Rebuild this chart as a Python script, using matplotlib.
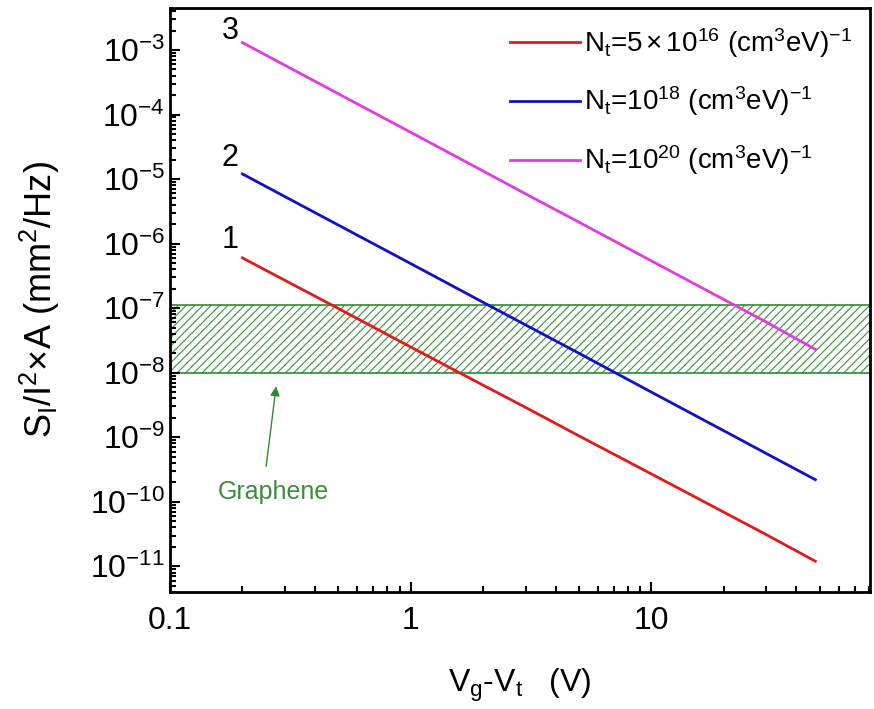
import matplotlib
matplotlib.use("Agg")
import matplotlib.pyplot as plt
from matplotlib.ticker import LogLocator, FixedLocator, FuncFormatter, LogFormatterSciNotation, NullFormatter

plt.rcParams['font.family'] = ['Liberation Sans', 'DejaVu Sans']
plt.rcParams['mathtext.fontset'] = 'custom'
plt.rcParams['mathtext.rm'] = 'Liberation Sans'
plt.rcParams['mathtext.it'] = 'Liberation Sans'
plt.rcParams['hatch.linewidth'] = 0.8

# gate overdrive (V) and normalised noise for three trap densities
vg = [0.2, 0.3, 0.5, 1, 2, 3, 5, 10, 20, 30, 48]
noise_1 = [6.0e-7, 2.7e-7, 9.9e-8, 2.5e-8, 6.4e-9, 2.9e-9, 1.05e-9, 2.7e-10, 6.9e-11, 3.1e-11, 1.2e-11]
noise_2 = [1.2e-5, 5.35e-6, 1.94e-6, 4.9e-7, 1.23e-7, 5.5e-8, 2.0e-8, 5.0e-9, 1.26e-9, 5.6e-10, 2.2e-10]
noise_3 = [1.3e-3, 5.8e-4, 2.1e-4, 5.3e-5, 1.33e-5, 5.9e-6, 2.15e-6, 5.4e-7, 1.36e-7, 6.1e-8, 2.3e-8]
labels = [r'N$_t$=5$\,$×$\,$10$^{16}$ (cm$^3$eV)$^{-1}$',
          r'N$_t$=10$^{18}$ (cm$^3$eV)$^{-1}$',
          r'N$_t$=10$^{20}$ (cm$^3$eV)$^{-1}$']
colors = ['#e31a1a', '#1010c8', '#e03ce0']
curve_ids = ['1', '2', '3']

x_ticks = [0.1, 1, 10]
y_ticks = [1e-11, 1e-10, 1e-9, 1e-8, 1e-7, 1e-6, 1e-5, 1e-4, 1e-3]

# graphene noise range
graphene_lo, graphene_hi = 1e-8, 1.1e-7

fig = plt.figure(figsize=(8.74, 7.09), dpi=100)
ax = fig.add_axes([0.1945, 0.165, 0.801, 0.824])

ax.fill_between([0.1, 81], graphene_lo, graphene_hi, facecolor='none',
                edgecolor='#3c8c3c', hatch='////', linewidth=0, zorder=1)
ax.fill_between([0.1, 81], graphene_lo, graphene_hi, facecolor='none',
                edgecolor='#2e8b2e', linewidth=1.2, zorder=1)

for ys, c, lab in zip([noise_1, noise_2, noise_3], colors, labels):
    ax.plot(vg, ys, color=c, lw=2, label=lab, zorder=3)

# curve numbers just above the start of each line
for ys, cid, k in zip([noise_1, noise_2, noise_3], curve_ids, [1.9, 1.75, 1.5]):
    ax.text(0.178, ys[0] * k, cid, fontsize=22, ha='center', va='center')

ax.annotate('', xy=(0.277, 6.8e-9), xytext=(0.25, 3.2e-10),
            arrowprops=dict(arrowstyle='-|>', color='#2e8b2e', lw=1, mutation_scale=14))
ax.text(0.27, 1.4e-10, 'Graphene', color='#3c8c3c', fontsize=18, ha='center', va='center')

ax.set_xscale('log')
ax.set_yscale('log')
ax.set_xlim(0.1, 81)
ax.set_ylim(4e-12, 4.5e-3)

ax.xaxis.set_major_locator(FixedLocator(x_ticks))
ax.xaxis.set_minor_locator(LogLocator(base=10, subs=range(2, 10), numticks=20))
ax.xaxis.set_major_formatter(FuncFormatter(lambda v, p: '%g' % v))
ax.xaxis.set_minor_formatter(NullFormatter())
ax.yaxis.set_major_locator(FixedLocator(y_ticks))
ax.yaxis.set_major_formatter(LogFormatterSciNotation())
ax.yaxis.set_minor_locator(LogLocator(base=10, subs=range(2, 10), numticks=50))
ax.yaxis.set_minor_formatter(NullFormatter())

ax.tick_params(which='both', direction='in', top=False, right=False, labelsize=23, width=1.5)
ax.tick_params(which='major', length=7)
ax.tick_params(which='minor', length=4)
ax.tick_params(axis='x', pad=10)
for s in ax.spines.values():
    s.set_linewidth(2)

ax.set_xlabel(r'V$_g$-V$_t$   (V)', fontsize=23, labelpad=22)
ax.set_ylabel(r'S$_I$/I$^2$×A (mm$^2$/Hz)', fontsize=26, labelpad=20)

ax.legend(loc='upper right', frameon=False, fontsize=20, handlelength=2.5,
          handletextpad=0.15, labelspacing=0.9, borderaxespad=0.25)

fig.savefig('out.png', dpi=100)
